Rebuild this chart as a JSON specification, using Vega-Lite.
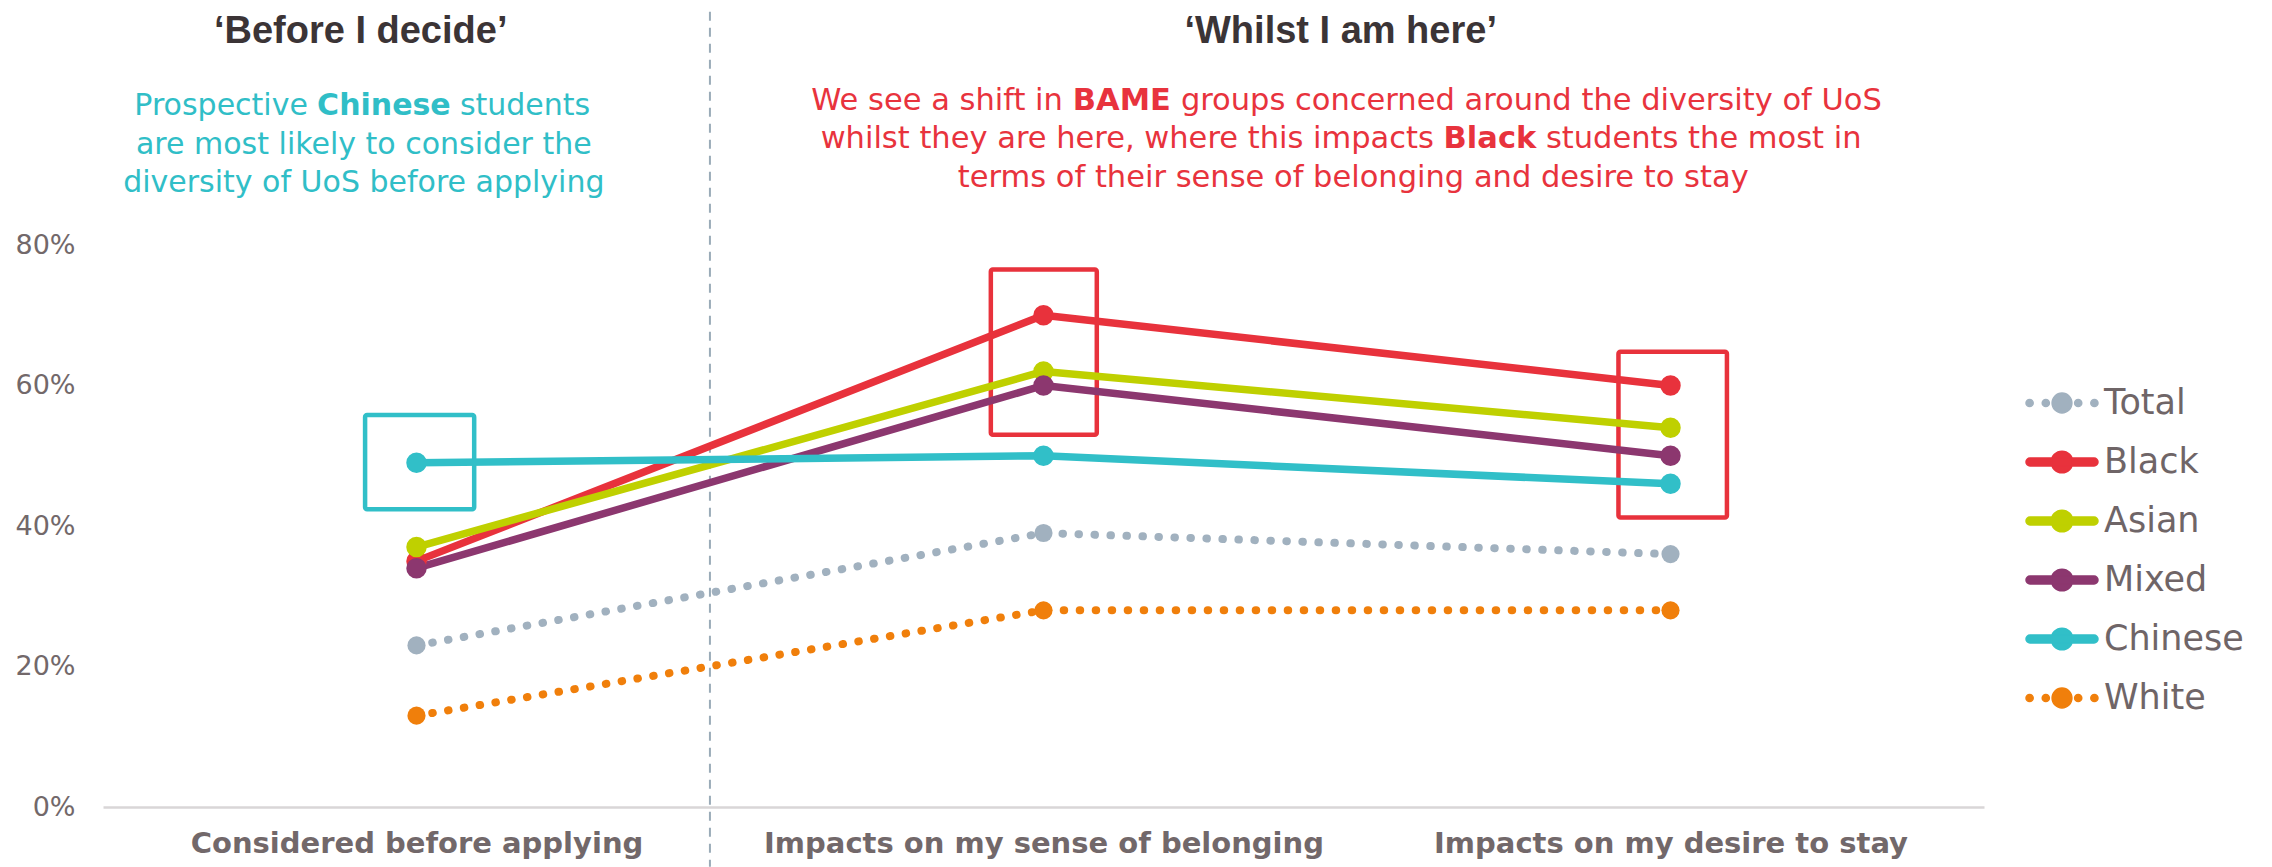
{
  "$schema": "https://vega.github.io/schema/vega-lite/v6.json",
  "autosize": {"type": "none"},
  "padding": {"left": 103, "top": 245, "right": 288, "bottom": 60},
  "width": 1881,
  "height": 562,
  "background": "white",
  "config": {"view": {"stroke": null}, "font": "DejaVu Sans"},
  "data": {
    "values": [
      {"group": "Total", "stage": 1, "share": 0.23},
      {"group": "Total", "stage": 2, "share": 0.39},
      {"group": "Total", "stage": 3, "share": 0.36},
      {"group": "Black", "stage": 1, "share": 0.35},
      {"group": "Black", "stage": 2, "share": 0.70},
      {"group": "Black", "stage": 3, "share": 0.60},
      {"group": "Asian", "stage": 1, "share": 0.37},
      {"group": "Asian", "stage": 2, "share": 0.62},
      {"group": "Asian", "stage": 3, "share": 0.54},
      {"group": "Mixed", "stage": 1, "share": 0.34},
      {"group": "Mixed", "stage": 2, "share": 0.60},
      {"group": "Mixed", "stage": 3, "share": 0.50},
      {"group": "Chinese", "stage": 1, "share": 0.49},
      {"group": "Chinese", "stage": 2, "share": 0.50},
      {"group": "Chinese", "stage": 3, "share": 0.46},
      {"group": "White", "stage": 1, "share": 0.13},
      {"group": "White", "stage": 2, "share": 0.28},
      {"group": "White", "stage": 3, "share": 0.28}
    ]
  },
  "encoding": {
    "x": {
      "field": "stage", "type": "quantitative",
      "scale": {"domain": [0.5, 3.5], "nice": false, "zero": false},
      "axis": {
        "values": [1, 2, 3], "title": null, "grid": false, "ticks": false,
        "domain": true, "domainColor": "#d9d6d7", "domainWidth": 2.5,
        "labelExpr": "datum.value == 1 ? 'Considered before applying' : datum.value == 2 ? 'Impacts on my sense of belonging' : 'Impacts on my desire to stay'",
        "labelFont": "DejaVu Sans", "labelFontWeight": "bold", "labelFontSize": 29, "labelLimit": 800,
        "labelColor": "#72686a", "labelPadding": 22, "labelFlush": false, "labelOverlap": false
      }
    },
    "y": {
      "field": "share", "type": "quantitative",
      "scale": {"domain": [0, 0.8], "nice": false},
      "axis": {
        "values": [0, 0.2, 0.4, 0.6, 0.8], "format": ".0%", "title": null,
        "grid": false, "ticks": false, "domain": false,
        "labelFont": "DejaVu Sans", "labelFontSize": 27, "labelColor": "#72686a", "labelPadding": 28
      }
    }
  },
  "layer": [
    {
      "transform": [{"filter": "false"}],
      "mark": {"type": "point", "filled": true, "opacity": 1},
      "encoding": {
        "color": {"field": "group", "type": "nominal",
          "scale": {"domain": ["Total", "Black", "Asian", "Mixed", "Chinese", "White"], "range": ["#a1b1bf", "#e8323c", "#bfd000", "#8c376f", "#31bfc8", "#f07f0b"]},
          "legend": {
            "orient": "none", "legendX": 1922, "legendY": 139, "title": null,
            "symbolSize": 1296, "symbolOffset": 18, "labelOffset": 23,
            "labelFont": "DejaVu Sans", "labelFontSize": 35, "labelColor": "#6f6567",
            "rowPadding": 22, "padding": 0, "labelLimit": 400, "symbolOpacity": 1
          }
        },
        "shape": {"field": "group", "type": "nominal",
          "scale": {"domain": ["Total", "Black", "Asian", "Mixed", "Chinese", "White"],
            "range": [
              "M-2,0 A0.2,0.2 0 1 1 -1.6,0 A0.2,0.2 0 1 1 -2,0 Z M-1.1,0 A0.2,0.2 0 1 1 -0.7,0 A0.2,0.2 0 1 1 -1.1,0 Z M0.7,0 A0.2,0.2 0 1 1 1.1,0 A0.2,0.2 0 1 1 0.7,0 Z M1.6,0 A0.2,0.2 0 1 1 2,0 A0.2,0.2 0 1 1 1.6,0 Z M-0.55,0 A0.55,0.55 0 1 1 0.55,0 A0.55,0.55 0 1 1 -0.55,0 Z",
              "M-1.78,-0.22 L1.78,-0.22 A0.22,0.22 0 0 1 1.78,0.22 L-1.78,0.22 A0.22,0.22 0 0 1 -1.78,-0.22 Z M-0.6,0 A0.6,0.6 0 1 1 0.6,0 A0.6,0.6 0 1 1 -0.6,0 Z",
              "M-1.78,-0.22 L1.78,-0.22 A0.22,0.22 0 0 1 1.78,0.22 L-1.78,0.22 A0.22,0.22 0 0 1 -1.78,-0.22 Z M-0.6,0 A0.6,0.6 0 1 1 0.6,0 A0.6,0.6 0 1 1 -0.6,0 Z",
              "M-1.78,-0.22 L1.78,-0.22 A0.22,0.22 0 0 1 1.78,0.22 L-1.78,0.22 A0.22,0.22 0 0 1 -1.78,-0.22 Z M-0.6,0 A0.6,0.6 0 1 1 0.6,0 A0.6,0.6 0 1 1 -0.6,0 Z",
              "M-1.78,-0.22 L1.78,-0.22 A0.22,0.22 0 0 1 1.78,0.22 L-1.78,0.22 A0.22,0.22 0 0 1 -1.78,-0.22 Z M-0.6,0 A0.6,0.6 0 1 1 0.6,0 A0.6,0.6 0 1 1 -0.6,0 Z",
              "M-2,0 A0.2,0.2 0 1 1 -1.6,0 A0.2,0.2 0 1 1 -2,0 Z M-1.1,0 A0.2,0.2 0 1 1 -0.7,0 A0.2,0.2 0 1 1 -1.1,0 Z M0.7,0 A0.2,0.2 0 1 1 1.1,0 A0.2,0.2 0 1 1 0.7,0 Z M1.6,0 A0.2,0.2 0 1 1 2,0 A0.2,0.2 0 1 1 1.6,0 Z M-0.55,0 A0.55,0.55 0 1 1 0.55,0 A0.55,0.55 0 1 1 -0.55,0 Z"
            ]}
        }
      }
    },
    {
      "transform": [{"filter": "datum.group == 'Total' && datum.stage == 1"}, {"calculate": "1.468", "as": "ax"}, {"calculate": "1.132", "as": "ay"}, {"calculate": "-0.085", "as": "ay2"}],
      "mark": {"type": "rule", "stroke": "#9aabb8", "strokeWidth": 2, "strokeDash": [9, 7]},
      "encoding": {
        "x": {"field": "ax", "type": "quantitative"},
        "y": {"field": "ay", "type": "quantitative"},
        "y2": {"field": "ay2"}
      }
    },
    {
      "transform": [{"filter": "datum.group == 'Total' && datum.stage == 1"}, {"calculate": "0.918", "as": "ax"}, {"calculate": "1.092", "as": "ax2"}, {"calculate": "0.558", "as": "ay"}, {"calculate": "0.424", "as": "ay2"}],
      "mark": {"type": "rect", "fill": "transparent", "stroke": "#31bfc8", "strokeWidth": 4.5, "cornerRadius": 2},
      "encoding": {
        "x": {"field": "ax", "type": "quantitative"}, "x2": {"field": "ax2"},
        "y": {"field": "ay", "type": "quantitative"}, "y2": {"field": "ay2"}
      }
    },
    {
      "transform": [{"filter": "datum.group == 'Total' && datum.stage == 1"}, {"calculate": "1.916", "as": "ax"}, {"calculate": "2.085", "as": "ax2"}, {"calculate": "0.765", "as": "ay"}, {"calculate": "0.530", "as": "ay2"}],
      "mark": {"type": "rect", "fill": "transparent", "stroke": "#e8323c", "strokeWidth": 4.5, "cornerRadius": 2},
      "encoding": {
        "x": {"field": "ax", "type": "quantitative"}, "x2": {"field": "ax2"},
        "y": {"field": "ay", "type": "quantitative"}, "y2": {"field": "ay2"}
      }
    },
    {
      "transform": [{"filter": "datum.group == 'Total' && datum.stage == 1"}, {"calculate": "2.917", "as": "ax"}, {"calculate": "3.090", "as": "ax2"}, {"calculate": "0.648", "as": "ay"}, {"calculate": "0.412", "as": "ay2"}],
      "mark": {"type": "rect", "fill": "transparent", "stroke": "#e8323c", "strokeWidth": 4.5, "cornerRadius": 2},
      "encoding": {
        "x": {"field": "ax", "type": "quantitative"}, "x2": {"field": "ax2"},
        "y": {"field": "ay", "type": "quantitative"}, "y2": {"field": "ay2"}
      }
    },
    {
      "transform": [{"filter": {"field": "group", "oneOf": ["Total", "White"]}}],
      "mark": {"type": "line", "strokeWidth": 8, "strokeDash": [0.5, 15.5], "strokeCap": "round"},
      "encoding": {
        "color": {"field": "group", "type": "nominal", "legend": null,
          "scale": {"domain": ["Total", "Black", "Asian", "Mixed", "Chinese", "White"], "range": ["#a1b1bf", "#e8323c", "#bfd000", "#8c376f", "#31bfc8", "#f07f0b"]}}
      }
    },
    {
      "transform": [{"filter": {"field": "group", "oneOf": ["Black", "Asian", "Mixed", "Chinese"]}}],
      "mark": {"type": "line", "strokeWidth": 7.5, "strokeCap": "round", "strokeJoin": "round"},
      "encoding": {
        "color": {"field": "group", "type": "nominal", "legend": null,
          "scale": {"domain": ["Total", "Black", "Asian", "Mixed", "Chinese", "White"], "range": ["#a1b1bf", "#e8323c", "#bfd000", "#8c376f", "#31bfc8", "#f07f0b"]}}
      }
    },
    {
      "transform": [{"filter": {"field": "group", "oneOf": ["Total", "White"]}}],
      "mark": {"type": "circle", "size": 330, "opacity": 1},
      "encoding": {
        "color": {"field": "group", "type": "nominal", "legend": null,
          "scale": {"domain": ["Total", "Black", "Asian", "Mixed", "Chinese", "White"], "range": ["#a1b1bf", "#e8323c", "#bfd000", "#8c376f", "#31bfc8", "#f07f0b"]}}
      }
    },
    {
      "transform": [{"filter": {"field": "group", "oneOf": ["Black", "Asian", "Mixed", "Chinese"]}}],
      "mark": {"type": "circle", "size": 420, "opacity": 1},
      "encoding": {
        "color": {"field": "group", "type": "nominal", "legend": null,
          "scale": {"domain": ["Total", "Black", "Asian", "Mixed", "Chinese", "White"], "range": ["#a1b1bf", "#e8323c", "#bfd000", "#8c376f", "#31bfc8", "#f07f0b"]}}
      }
    },
    {
      "transform": [{"filter": "datum.group == 'Total' && datum.stage == 1"}, {"calculate": "0.911", "as": "ax"}, {"calculate": "1.088", "as": "ay"}],
      "mark": {"type": "text", "text": "‘Before I decide’", "font": "Liberation Sans", "fontWeight": "bold", "fontSize": 38, "color": "#3b3436", "align": "center", "baseline": "alphabetic"},
      "encoding": {"x": {"field": "ax", "type": "quantitative"}, "y": {"field": "ay", "type": "quantitative"}}
    },
    {
      "transform": [{"filter": "datum.group == 'Total' && datum.stage == 1"}, {"calculate": "2.474", "as": "ax"}, {"calculate": "1.088", "as": "ay"}],
      "mark": {"type": "text", "text": "‘Whilst I am here’", "font": "Liberation Sans", "fontWeight": "bold", "fontSize": 38, "color": "#3b3436", "align": "center", "baseline": "alphabetic"},
      "encoding": {"x": {"field": "ax", "type": "quantitative"}, "y": {"field": "ay", "type": "quantitative"}}
    },
    {
      "transform": [{"filter": "datum.group == 'Total' && datum.stage == 1"}, {"calculate": "0.948", "as": "ax"}, {"calculate": "0.985", "as": "ay"}],
      "mark": {"type": "text", "text": "Prospective", "font": "DejaVu Sans", "fontSize": 30, "color": "#30bec7", "align": "right", "baseline": "alphabetic", "dx": -76},
      "encoding": {"x": {"field": "ax", "type": "quantitative"}, "y": {"field": "ay", "type": "quantitative"}}
    },
    {
      "transform": [{"filter": "datum.group == 'Total' && datum.stage == 1"}, {"calculate": "0.948", "as": "ax"}, {"calculate": "0.985", "as": "ay"}],
      "mark": {"type": "text", "text": "Chinese", "font": "DejaVu Sans", "fontWeight": "bold", "fontSize": 30, "color": "#30bec7", "align": "center", "baseline": "alphabetic"},
      "encoding": {"x": {"field": "ax", "type": "quantitative"}, "y": {"field": "ay", "type": "quantitative"}}
    },
    {
      "transform": [{"filter": "datum.group == 'Total' && datum.stage == 1"}, {"calculate": "0.948", "as": "ax"}, {"calculate": "0.985", "as": "ay"}],
      "mark": {"type": "text", "text": "students", "font": "DejaVu Sans", "fontSize": 30, "color": "#30bec7", "align": "left", "baseline": "alphabetic", "dx": 76},
      "encoding": {"x": {"field": "ax", "type": "quantitative"}, "y": {"field": "ay", "type": "quantitative"}}
    },
    {
      "transform": [{"filter": "datum.group == 'Total' && datum.stage == 1"}, {"calculate": "0.916", "as": "ax"}, {"calculate": "0.9295", "as": "ay"}],
      "mark": {"type": "text", "text": "are most likely to consider the", "font": "DejaVu Sans", "fontSize": 30, "color": "#30bec7", "align": "center", "baseline": "alphabetic"},
      "encoding": {"x": {"field": "ax", "type": "quantitative"}, "y": {"field": "ay", "type": "quantitative"}}
    },
    {
      "transform": [{"filter": "datum.group == 'Total' && datum.stage == 1"}, {"calculate": "0.916", "as": "ax"}, {"calculate": "0.8754", "as": "ay"}],
      "mark": {"type": "text", "text": "diversity of UoS before applying", "font": "DejaVu Sans", "fontSize": 30, "color": "#30bec7", "align": "center", "baseline": "alphabetic"},
      "encoding": {"x": {"field": "ax", "type": "quantitative"}, "y": {"field": "ay", "type": "quantitative"}}
    },
    {
      "transform": [{"filter": "datum.group == 'Total' && datum.stage == 1"}, {"calculate": "2.125", "as": "ax"}, {"calculate": "0.9922", "as": "ay"}],
      "mark": {"type": "text", "text": "We see a shift in", "font": "DejaVu Sans", "fontSize": 30.5, "color": "#e8333d", "align": "right", "baseline": "alphabetic", "dx": -59},
      "encoding": {"x": {"field": "ax", "type": "quantitative"}, "y": {"field": "ay", "type": "quantitative"}}
    },
    {
      "transform": [{"filter": "datum.group == 'Total' && datum.stage == 1"}, {"calculate": "2.125", "as": "ax"}, {"calculate": "0.9922", "as": "ay"}],
      "mark": {"type": "text", "text": "BAME", "font": "DejaVu Sans", "fontWeight": "bold", "fontSize": 30.5, "color": "#e8333d", "align": "center", "baseline": "alphabetic"},
      "encoding": {"x": {"field": "ax", "type": "quantitative"}, "y": {"field": "ay", "type": "quantitative"}}
    },
    {
      "transform": [{"filter": "datum.group == 'Total' && datum.stage == 1"}, {"calculate": "2.125", "as": "ax"}, {"calculate": "0.9922", "as": "ay"}],
      "mark": {"type": "text", "text": "groups concerned around the diversity of UoS", "font": "DejaVu Sans", "fontSize": 30.5, "color": "#e8333d", "align": "left", "baseline": "alphabetic", "dx": 59},
      "encoding": {"x": {"field": "ax", "type": "quantitative"}, "y": {"field": "ay", "type": "quantitative"}}
    },
    {
      "transform": [{"filter": "datum.group == 'Total' && datum.stage == 1"}, {"calculate": "2.712", "as": "ax"}, {"calculate": "0.9377", "as": "ay"}],
      "mark": {"type": "text", "text": "whilst they are here, where this impacts", "font": "DejaVu Sans", "fontSize": 30.5, "color": "#e8333d", "align": "right", "baseline": "alphabetic", "dx": -56},
      "encoding": {"x": {"field": "ax", "type": "quantitative"}, "y": {"field": "ay", "type": "quantitative"}}
    },
    {
      "transform": [{"filter": "datum.group == 'Total' && datum.stage == 1"}, {"calculate": "2.712", "as": "ax"}, {"calculate": "0.9377", "as": "ay"}],
      "mark": {"type": "text", "text": "Black", "font": "DejaVu Sans", "fontWeight": "bold", "fontSize": 30.5, "color": "#e8333d", "align": "center", "baseline": "alphabetic"},
      "encoding": {"x": {"field": "ax", "type": "quantitative"}, "y": {"field": "ay", "type": "quantitative"}}
    },
    {
      "transform": [{"filter": "datum.group == 'Total' && datum.stage == 1"}, {"calculate": "2.712", "as": "ax"}, {"calculate": "0.9377", "as": "ay"}],
      "mark": {"type": "text", "text": "students the most in", "font": "DejaVu Sans", "fontSize": 30.5, "color": "#e8333d", "align": "left", "baseline": "alphabetic", "dx": 56},
      "encoding": {"x": {"field": "ax", "type": "quantitative"}, "y": {"field": "ay", "type": "quantitative"}}
    },
    {
      "transform": [{"filter": "datum.group == 'Total' && datum.stage == 1"}, {"calculate": "2.494", "as": "ax"}, {"calculate": "0.883", "as": "ay"}],
      "mark": {"type": "text", "text": "terms of their sense of belonging and desire to stay", "font": "DejaVu Sans", "fontSize": 30.5, "color": "#e8333d", "align": "center", "baseline": "alphabetic"},
      "encoding": {"x": {"field": "ax", "type": "quantitative"}, "y": {"field": "ay", "type": "quantitative"}}
    }
  ]
}
